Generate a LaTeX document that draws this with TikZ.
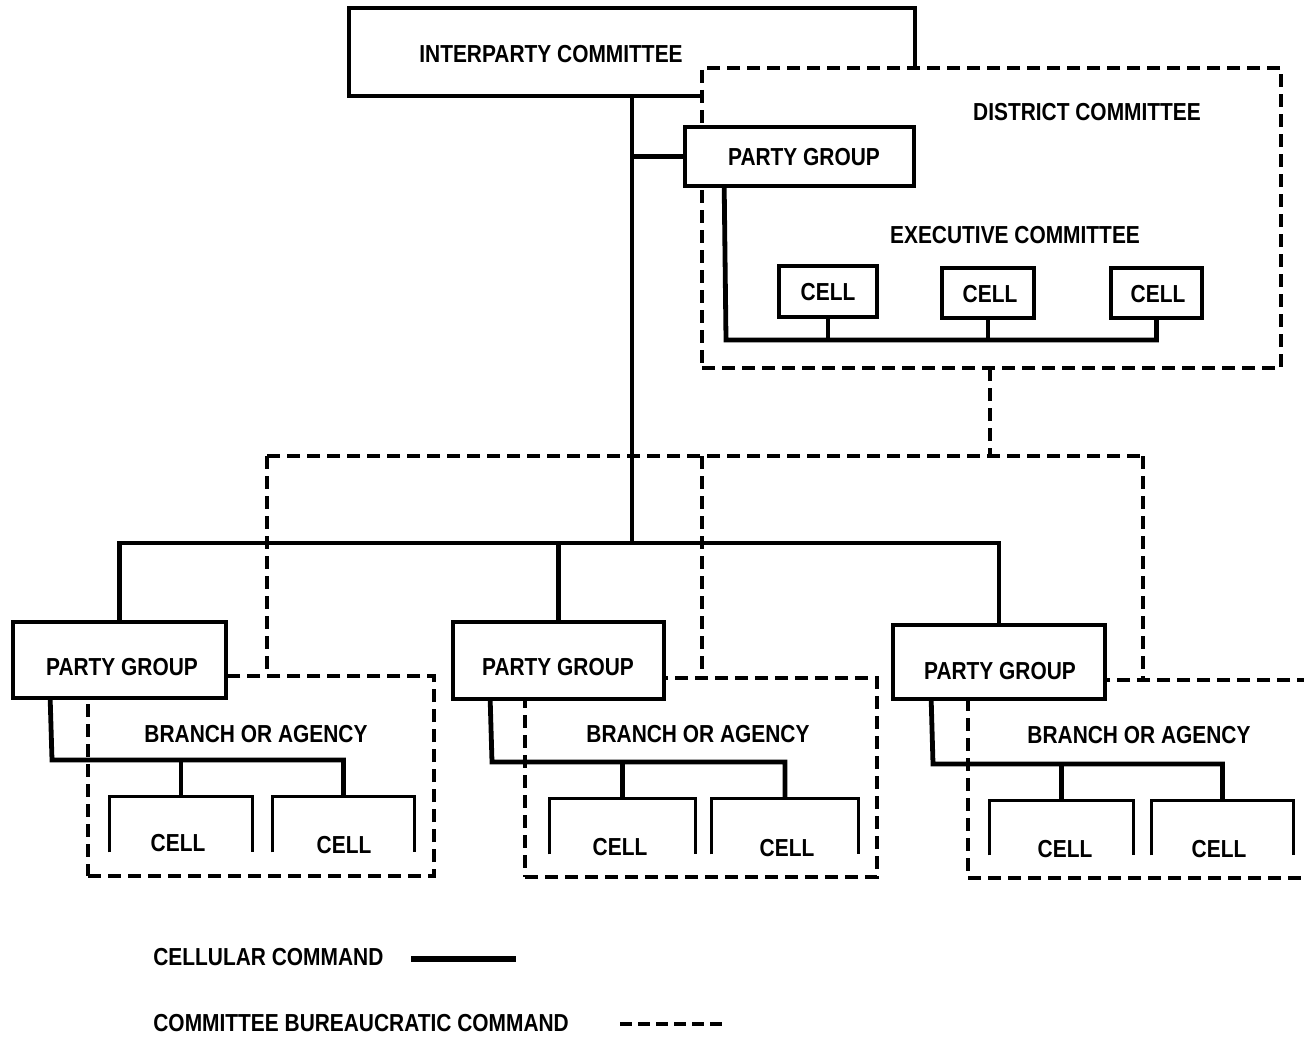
\documentclass[tikz,border=0pt]{standalone}
\usepackage{fontspec}
\setmainfont{Liberation Sans}[FakeStretch=0.85]
\usetikzlibrary{fit,calc}
\begin{document}
\begin{tikzpicture}[x=0.5pt,y=-0.5pt,
  box/.style={draw,line width=1.8pt,fill=white,inner sep=0pt},
  dbox/.style={draw,line width=1.7pt,dash pattern=on 6.5pt off 3.5pt,fill=white,inner sep=0pt},
  open/.style={inner sep=0pt},
  cmd/.style={line width=2.4pt},
  side/.style={line width=1.8pt},
  bur/.style={line width=1.7pt,dash pattern=on 6.5pt off 3.5pt},
  lbl/.style={font=\bfseries\fontsize{12.3}{14}\selectfont,inner sep=0pt},
  ]
\useasboundingbox (0,0) rectangle (1304,1038);
\clip (0,0) rectangle (1304,1038);
\fill[white] (0,0) rectangle (1304,1038);

% interparty committee
\node[box,fit={(349,8)(915,96)}] (ipc) {};
\node[lbl] (tipc) at (551,54) {INTERPARTY COMMITTEE};

% district committee
\node[dbox,fit={(702,68)(1281,368)}] (dc) {};
\node[lbl] (tdc) at (1087,112) {DISTRICT COMMITTEE};
\node[lbl] (tec) at (1015,235) {EXECUTIVE COMMITTEE};

% main vertical and bus
\coordinate (bus) at (632,543);
\draw[cmd] (ipc.south) -- (bus);

% top party group
\node[box,fit={(685,127)(914,186)}] (pgt) {};
\node[lbl] (tpgt) at (804,157) {PARTY GROUP};
\draw[cmd] (pgt.west) -- (pgt.west -| ipc.south);

% executive cells
\node[box,fit={(779,266)(877,317)}] (c1) {};
\node[box,fit={(942,268)(1034,318)}] (c2) {};
\node[box,fit={(1111,268)(1202,318)}] (c3) {};
\node[lbl] at (828,292) {CELL};
\node[lbl] at (990,294) {CELL};
\node[lbl] at (1158,294) {CELL};
\coordinate (eb) at (726,340);
\draw[cmd] ($(pgt.south west)+(41,0)$) -- (eb) -- (eb -| c3.south) -- (c3.south);
\draw[cmd] (c1.south) -- (c1.south |- eb);
\draw[cmd] (c2.south) -- (c2.south |- eb);

% bureaucratic links
\coordinate (dcb) at (990,368);
\coordinate (k1) at (267,456);
\coordinate (k2) at (702,456);
\coordinate (k3) at (1143,456);

% branch boxes
\node[dbox,fit={(88,676)(434,876)}] (b1) {};
\node[dbox,fit={(525,678)(877,877)}] (b2) {};
\node[dbox,fit={(968,680)(1340,878)}] (b3) {};

\draw[bur] (dcb) -- (dcb |- k1);
\draw[bur] (k1) -- (k3);
\draw[bur] (k1) -- (k1 |- b1.north);
\draw[bur] (k2) -- (k2 |- b2.north);
\draw[bur] (k3) -- (k3 |- b3.north);

% lower party groups
\node[box,fit={(13,622)(226,698)}] (pg1) {};
\node[box,fit={(453,622)(664,699)}] (pg2) {};
\node[box,fit={(893,625)(1105,699)}] (pg3) {};
\node[lbl] at (122,667) {PARTY GROUP};
\node[lbl] at (558,667) {PARTY GROUP};
\node[lbl] at (1000,671) {PARTY GROUP};

\draw[cmd] (pg1.north) |- (bus) -| (pg3.north);
\draw[cmd] (pg2.north) -- (pg2.north |- bus);

\node[lbl] at (256,734) {BRANCH OR AGENCY};
\node[lbl] at (698,734) {BRANCH OR AGENCY};
\node[lbl] at (1139,735) {BRANCH OR AGENCY};

% branch cells (open at the bottom)
\node[open,fit={(110,797)(252,852)}] (l11) {};
\node[open,fit={(273,797)(414,852)}] (l12) {};
\node[open,fit={(550,799)(695,854)}] (l21) {};
\node[open,fit={(712,799)(858,854)}] (l22) {};
\node[open,fit={(990,801)(1133,855)}] (l31) {};
\node[open,fit={(1152,801)(1293,855)}] (l32) {};
\foreach \c in {l11,l12,l21,l22,l31,l32}
  \draw[side] (\c.south west) |- (\c.north east) -- (\c.south east);
\node[lbl] at (178,843) {CELL};
\node[lbl] at (344,845) {CELL};
\node[lbl] at (620,847) {CELL};
\node[lbl] at (787,848) {CELL};
\node[lbl] at (1065,849) {CELL};
\node[lbl] at (1219,849) {CELL};

\coordinate (h1) at (52,760);
\coordinate (h2) at (492,762);
\coordinate (h3) at (933,764);
\draw[cmd] ($(pg1.south west)+(39,0)$) -- (h1) -| (l12.north);
\draw[cmd] (l11.north) -- (l11.north |- h1);
\draw[cmd] ($(pg2.south west)+(39,0)$) -- (h2) -| (l22.north);
\draw[cmd] (l21.north) -- (l21.north |- h2);
\draw[cmd] ($(pg3.south west)+(40,0)$) -- (h3) -| (l32.north);
\draw[cmd] (l31.north) -- (l31.north |- h3);

% legend
\node[lbl,anchor=west] (lg1) at (153,957) {CELLULAR COMMAND};
\node[lbl,anchor=west] (lg2) at (153,1023) {COMMITTEE BUREAUCRATIC COMMAND};
\coordinate (la) at (411,959);
\coordinate (lb) at (516,959);
\coordinate (lc) at (620,1024);
\coordinate (ld) at (724,1024);
\draw[line width=3pt] (la) -- (lb);
\draw[line width=2pt,dash pattern=on 6pt off 3pt] (lc) -- (ld);
\end{tikzpicture}
\end{document}
